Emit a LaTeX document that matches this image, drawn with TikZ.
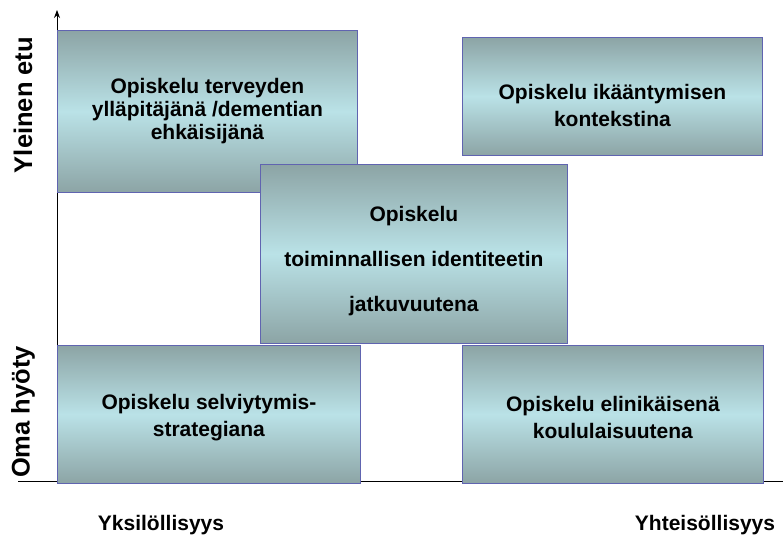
\documentclass[tikz,border=0pt]{standalone}
\usepackage{fontspec}
\setmainfont{Liberation Sans}
\usetikzlibrary{arrows.meta}
\definecolor{boxdark}{RGB}{140,164,165}
\definecolor{boxlight}{RGB}{186,226,231}
\definecolor{boxedge}{RGB}{96,100,176}
\tikzset{
  quad/.style={draw=boxedge, line width=0.8pt, top color=boxdark, bottom color=boxdark, middle color=boxlight,
    anchor=north west, inner sep=0pt},
  quadtext/.style={align=center, inner sep=0pt, font=\bfseries\fontsize{21}{27}\selectfont},
  axislabel/.style={font=\bfseries\fontsize{21}{25}\selectfont},
  vlabel/.style={font=\bfseries\fontsize{25.5}{30}\selectfont, rotate=90}
}
\begin{document}
\begin{tikzpicture}[x=1pt,y=-1pt]
\useasboundingbox (0,0) rectangle (783,538);
\coordinate (o) at (57,481);
\coordinate (ytop) at (57,10);
\coordinate (xl) at (18,481);
\coordinate (xr) at (783,481);
\draw[line width=0.8pt] (xl) -- (xr);
\draw[line width=0.8pt,-{Stealth[length=8pt,width=6pt]}] (o) -- (ytop);
\node[quad, minimum width=300pt, minimum height=162pt] (tl) at (57,30) {};
\node[quadtext, font=\bfseries\fontsize{21}{23}\selectfont] (tlt) at (tl.center)
  {Opiskelu terveyden\\ylläpitäjänä /dementian\\ehkäisijänä};
\node[quad, minimum width=300pt, minimum height=118pt] (tr) at (462,37) {};
\node[quadtext, yshift=-9pt] (trt) at (tr.center)
  {Opiskelu ikääntymisen\\kontekstina};
\node[quad, minimum width=303pt, minimum height=138pt] (bl) at (57,345) {};
\node[quadtext, yshift=-3pt] (blt) at (bl.center)
  {Opiskelu selviytymis-\\strategiana};
\node[quad, minimum width=301pt, minimum height=138pt] (br) at (462,345) {};
\node[quadtext, yshift=-3pt] (brt) at (br.center)
  {Opiskelu elinikäisenä\\koululaisuutena};
\node[quad, minimum width=307pt, minimum height=179pt] (c) at (260,164) {};
\node[quadtext, yshift=-7pt, font=\bfseries\fontsize{21}{45}\selectfont] (ct) at (c.center)
  {Opiskelu\\toiminnallisen identiteetin\\jatkuvuutena};
\node[vlabel] (ye) at (23,105) {Yleinen etu};
\node[vlabel] (oh) at (23,412) {Oma hyöty};
\node[axislabel] (yk) at (161,525) {Yksilöllisyys};
\node[axislabel] (yh) at (705,525) {Yhteisöllisyys};
\end{tikzpicture}
\end{document}
